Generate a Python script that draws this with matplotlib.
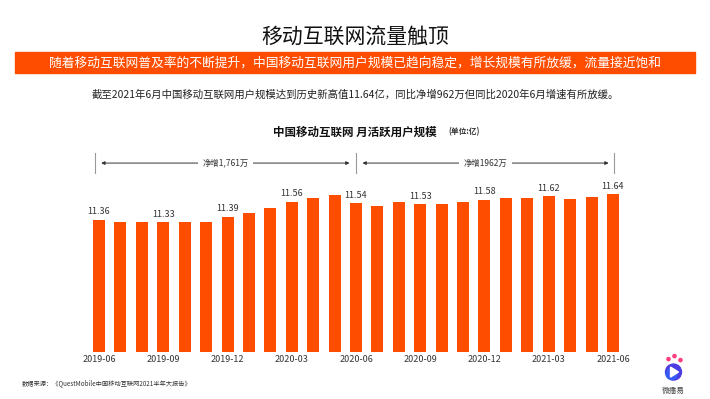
import matplotlib
matplotlib.use("Agg")
import matplotlib.pyplot as plt
from matplotlib.patches import Rectangle, Circle, Polygon

plt.rcParams['font.family'] = ['Noto Sans CJK SC', 'DejaVu Sans']

# data (亿), monthly from 2019-06 to 2021-06
months = ["2019-06", "2019-07", "2019-08", "2019-09", "2019-10", "2019-11",
          "2019-12", "2020-01", "2020-02", "2020-03", "2020-04", "2020-05",
          "2020-06", "2020-07", "2020-08", "2020-09", "2020-10", "2020-11",
          "2020-12", "2021-01", "2021-02", "2021-03", "2021-04", "2021-05",
          "2021-06"]
mau = [11.36, 11.34, 11.33, 11.33, 11.33, 11.34,
       11.39, 11.43, 11.49, 11.56, 11.60, 11.63,
       11.54, 11.51, 11.55, 11.53, 11.53, 11.55,
       11.58, 11.60, 11.60, 11.62, 11.59, 11.61,
       11.64]
labelled = [0, 3, 6, 9, 12, 15, 18, 21, 24]
tick_labels = [months[i] for i in labelled]

ORANGE = '#FF4D00'

fig = plt.figure(figsize=(7.1, 3.99), dpi=100)

# header
fig.text(0.5, 0.905, "移动互联网流量触顶", ha='center', va='center',
         fontsize=15, color='#111111')
fig.patches.append(Rectangle((0.021, 0.817), 0.958, 0.053,
                             transform=fig.transFigure, color=ORANGE, zorder=0))
fig.text(0.5, 0.843,
         "随着移动互联网普及率的不断提升，中国移动互联网用户规模已趋向稳定，增长规模有所放缓，流量接近饱和",
         ha='center', va='center', fontsize=9.2, color='white')
fig.text(0.5, 0.762,
         "截至2021年6月中国移动互联网用户规模达到历史新高值11.64亿，同比净增962万但同比2020年6月增速有所放缓。",
         ha='center', va='center', fontsize=7.5, color='#222222')
fig.text(0.5, 0.669, "中国移动互联网 月活跃用户规模", ha='center', va='center',
         fontsize=8.3, fontweight='bold', color='#111111')
fig.text(0.632, 0.669, "(单位:亿)", ha='left', va='center',
         fontsize=5.6, fontweight='bold', color='#333333')

# chart
ax = fig.add_axes([0.1214, 0.1178, 0.76, 0.511])
x = list(range(len(mau)))
bars = ax.bar(x, mau, width=0.56, color=ORANGE, bottom=0)
ax.set_ylim(9.9, 12.15)
ax.set_xlim(-0.6, 24.6)
for i in labelled:
    ax.text(i, mau[i] + 0.04, f"{mau[i]:.2f}", ha='center', va='bottom',
            fontsize=6.5, color='#333333')

ax.set_xticks(labelled)
ax.set_xticklabels(tick_labels, fontsize=6.5, color='#333333')
ax.tick_params(axis='x', length=0, pad=2)
ax.set_yticks([])
for s in ax.spines.values():
    s.set_visible(False)

# growth brackets
y_top, y_bot, y_arr = 12.10, 11.87, 11.985
for vx in [-0.2, 12, 24.05]:
    ax.plot([vx, vx], [y_bot, y_top], color='#999999', lw=0.8, clip_on=False)
for x0, x1, txt in [(0.1, 11.7, "净增1,761万"), (12.3, 23.8, "净增1962万")]:
    ax.annotate("", xy=(x0, y_arr), xytext=(x1, y_arr),
                arrowprops=dict(arrowstyle='<|-|>', color='#333333', lw=0.7,
                                mutation_scale=5, shrinkA=0, shrinkB=0))
    ax.text((x0 + x1) / 2, y_arr, txt, ha='center', va='center', fontsize=6,
            color='#333333',
            bbox=dict(boxstyle='square,pad=0.5', fc='white', ec='none'))

# footer
fig.text(0.031, 0.04, "数据来源：《QuestMobile中国移动互联网2021半年大报告》",
         ha='left', va='center', fontsize=4.5, color='#333333')

# logo
cx, cy = 666 / 710, 1 - 372 / 399
logo_ax = fig.add_axes([0.905, 0.0, 0.09, 0.13])
logo_ax.set_xlim(0, 64)
logo_ax.set_ylim(0, 52)
logo_ax.set_aspect('equal')
logo_ax.axis('off')
logo_ax.add_patch(Circle((31, 27), 8, color='#4B3BE0'))
logo_ax.add_patch(Circle((29, 25), 5.5, color='#2D6BFF', alpha=0.6))
logo_ax.add_patch(Polygon([[28, 22], [28, 32], [36, 27]], color='white'))
for px, py, r in [(26, 40, 1.6), (32, 43, 1.6), (38, 39, 1.6)]:
    logo_ax.add_patch(Circle((px, py), r, color='#FF3D7F'))
logo_ax.text(31, 8, "微播易", ha='center', va='center', fontsize=5.5,
             color='#444444')

fig.savefig("out.png", dpi=100)
